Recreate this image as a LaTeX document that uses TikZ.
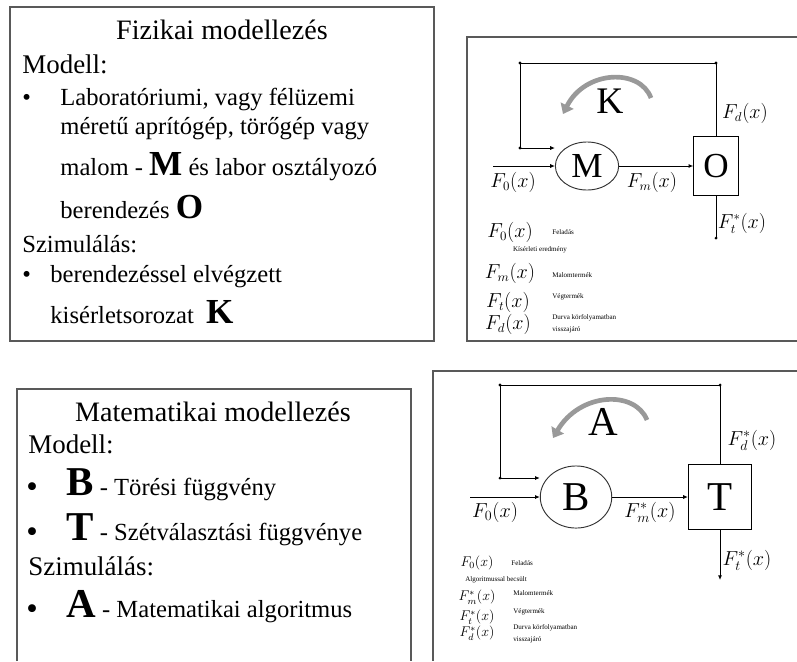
\documentclass[tikz,border=0pt]{standalone}
\usepackage{fontspec}
\setmainfont{Liberation Serif}
\usetikzlibrary{shapes.geometric,arrows.meta}

\newcommand{\unitletter}[1]{{\fontsize{30}{30}\selectfont\bfseries #1}}
\newcommand{\funcletter}[1]{{\fontsize{35}{35}\selectfont\bfseries #1}}

\begin{document}
\begin{tikzpicture}[
  x=0.03cm, y=-0.03cm,
  thick,
  frame/.style={draw=black!65,line width=1.1pt},
  mill/.style={ellipse,draw=black!80,thick,inner sep=0pt},
  sepbox/.style={rectangle,draw,thick,inner sep=0pt},
  flow/.style={-{Latex[length=4pt,width=3.5pt]},thick},
  turn/.style={-{Triangle[length=8pt,width=12pt]},line width=4pt,black!40},
  lbl/.style={font=\fontsize{16}{18}\selectfont},
  head/.style={font=\fontsize{24}{26}\selectfont},
  sub/.style={anchor=base west,font=\fontsize{23}{25}\selectfont},
  txt/.style={anchor=base west,font=\fontsize{21}{23}\selectfont},
  bigdot/.style={anchor=base west,font=\fontsize{28}{28}\selectfont},
  leg/.style={anchor=west,font=\fontsize{6}{7}\selectfont}
]
  \useasboundingbox (0,0) rectangle (797,661);

  % frames
  \draw[frame] (10,7) rectangle (434,341);
  \draw[frame] (797,37) -- (467,37) -- (467,341) -- (797,341);
  \draw[frame] (17,661) -- (17,389) -- (411,389) -- (411,661);
  \draw[frame] (797,371) -- (433,371) -- (433,661);

  % physical modelling text
  \node[head] (t1) at (222,30) {Fizikai modellezés};
  \node[sub] (m1) at (18,73) {Modell:};
  \node[txt] (b1) at (18,105) {•};
  \node[txt] (l1) at (56,105) {Laboratóriumi, vagy félüzemi};
  \node[txt] (l2) at (56,134) {méretű aprítógép, törőgép vagy};
  \node[txt] (l3) at (56,175) {malom - \unitletter{M} és labor osztályozó};
  \node[txt] (l4) at (56,218) {berendezés \unitletter{O}};
  \node[txt] (s1) at (18,252) {Szimulálás:};
  \node[txt] (b2) at (18,282) {•};
  \node[txt] (l5) at (46,282) {berendezéssel elvégzett};
  \node[txt] (l6) at (46,323) {kisérletsorozat\ \ \unitletter{K}};

  % mathematical modelling text
  \node[head] (t2) at (213,412) {Matematikai modellezés};
  \node[sub] (m2) at (24,453) {Modell:};
  \node[bigdot] (b3) at (22,497) {•};
  \node[txt] (l7) at (62,495) {\funcletter{B} - Törési függvény};
  \node[bigdot] (b4) at (22,542) {•};
  \node[txt] (l8) at (62,540) {\funcletter{T} - Szétválasztási függvénye};
  \node[sub] (s2) at (24,575) {Szimulálás:};
  \node[bigdot] (b5) at (22,619) {•};
  \node[txt] (l9) at (62,617) {\funcletter{A} - Matematikai algoritmus};

  % physical scheme
  \node[mill,minimum width=54pt,minimum height=41pt,font=\fontsize{30}{30}\selectfont] (M) at (587,166) {M};
  \node[sepbox,minimum width=38pt,minimum height=51pt,font=\fontsize{30}{30}\selectfont] (O) at (716,166) {O};
  \coordinate (in1) at (493,166);
  \coordinate (k1) at (520,63);
  \coordinate (k2) at (716,63);
  \coordinate (k3) at (520,148);
  \coordinate (out1) at (716,238);
  \draw[flow] (in1) -- (M);
  \draw[flow] (M) -- (O);
  \draw (O.north) -- (k2) -- (k1) -- (k3);
  \draw[flow] (k3) -- (k3 -| M.west);
  \draw (O.south) -- (out1);
  \fill (k1) circle[radius=1.3pt] (k2) circle[radius=1.3pt] (k3) circle[radius=1.3pt] (out1) circle[radius=1.3pt];
  \node[font=\fontsize{32}{32}\selectfont] (K) at (610,101) {K};
  \coordinate (a1) at (651,98);
  \coordinate (a2) at (563,114);
  \draw[turn] (a1) .. controls (640,68) and (585,70) .. (a2);
  \node[lbl] (f0) at (513,182) {$F_0(x)$};
  \node[lbl] (fm) at (652,182) {$F_m(x)$};
  \node[lbl] (fd) at (745,113) {$F_d(x)$};
  \node[lbl] (ft) at (742,223) {$F_t^*(x)$};

  % physical legend
  \node[lbl] (g1) at (510,232) {$F_0(x)$};
  \node[leg] (g1t) at (548,232) {Feladás};
  \node[leg,anchor=center] (g1u) at (540,250) {Kísérleti eredmény};
  \node[lbl] (g2) at (510,273) {$F_m(x)$};
  \node[leg] (g2t) at (548,275) {Malomtermék};
  \node[lbl] (g3) at (508,302) {$F_t(x)$};
  \node[leg] (g3t) at (548,297) {Végtermék};
  \node[lbl] (g4) at (508,324) {$F_d(x)$};
  \node[leg] (g4t) at (548,318) {Durva körfolyamatban};
  \node[leg] (g4u) at (548,330) {visszajáró};

  % mathematical scheme
  \node[mill,minimum width=61pt,minimum height=53pt,font=\fontsize{35}{35}\selectfont] (B) at (576,497) {B};
  \node[sepbox,minimum width=54pt,minimum height=56pt,font=\fontsize{35}{35}\selectfont] (T) at (720,497) {T};
  \coordinate (in2) at (470,497);
  \coordinate (j1) at (500,385);
  \coordinate (j2) at (720,385);
  \coordinate (j3) at (500,478);
  \coordinate (out2) at (720,580);
  \draw[flow] (in2) -- (B);
  \draw[flow] (B) -- (T);
  \draw (T.north) -- (j2) -- (j1) -- (j3);
  \draw[flow] (j3) -- (j3 -| B.west);
  \draw[flow] (T.south) -- (out2);
  \fill (j1) circle[radius=1.3pt] (j2) circle[radius=1.3pt] (j3) circle[radius=1.3pt];
  \node[font=\fontsize{35}{35}\selectfont] (A) at (603,422) {A};
  \coordinate (c1) at (647,420);
  \coordinate (c2) at (553,438);
  \draw[turn] (c1) .. controls (635,390) and (580,392) .. (c2);
  \node[lbl,font=\fontsize{18}{20}\selectfont] (h0) at (495,512) {$F_0(x)$};
  \node[lbl,font=\fontsize{18}{20}\selectfont] (hm) at (650,512) {$F_m^*(x)$};
  \node[lbl,font=\fontsize{18}{20}\selectfont] (hd) at (752,440) {$F_d^*(x)$};
  \node[lbl,font=\fontsize{18}{20}\selectfont] (ht) at (747,560) {$F_t^*(x)$};

  % mathematical legend
  \node[lbl,font=\fontsize{12}{13}\selectfont] (e1) at (477,563) {$F_0(x)$};
  \node[leg] (e1t) at (507,563) {Feladás};
  \node[leg,anchor=center] (e1u) at (496,580) {Algoritmussal becsült};
  \node[lbl,font=\fontsize{12}{13}\selectfont] (e2) at (477,597) {$F_m^*(x)$};
  \node[leg] (e2t) at (509,593) {Malomtermék};
  \node[lbl,font=\fontsize{12}{13}\selectfont] (e3) at (477,617) {$F_t^*(x)$};
  \node[leg] (e3t) at (509,612) {Végtermék};
  \node[lbl,font=\fontsize{12}{13}\selectfont] (e4) at (477,633) {$F_d^*(x)$};
  \node[leg] (e4t) at (509,628) {Durva körfolyamatban};
  \node[leg] (e4u) at (509,640) {visszajáró};
\end{tikzpicture}
\end{document}
